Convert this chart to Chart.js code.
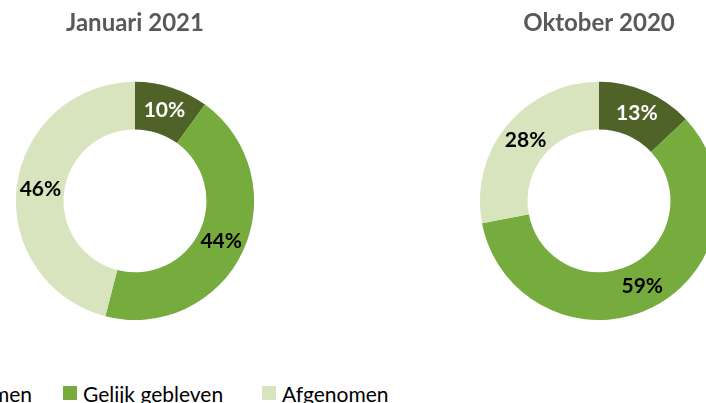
<!DOCTYPE html>
<html>
<head>
<meta charset="utf-8">
<script src="https://cdn.jsdelivr.net/npm/chart.js@4"></script>
<style>
  html, body { margin: 0; padding: 0; background: #fff; }
  body { width: 706px; height: 403px; position: relative; overflow: hidden; font-family: Lato, "Open Sans", sans-serif; }
  .box { position: absolute; top: 0; width: 300px; height: 320px; }
  .item { position: absolute; top: 380px; height: 26px; display: flex; align-items: center; font-size: 21px; color: #000; white-space: nowrap; }
  .item i { display: inline-block; width: 14px; height: 14px; margin-right: 6px; }
</style>
</head>
<body>
<div class="box" style="left:-15px"><canvas id="chartJan"></canvas></div>
<div class="box" style="left:449px"><canvas id="chartOkt"></canvas></div>
<div id="legend"></div>

<script>
// data
const categories = ['Toegenomen', 'Gelijk gebleven', 'Afgenomen'];
const januari2021 = [10, 44, 46];
const oktober2020 = [13, 59, 28];
const colors = ['#4F6228', '#76AB3E', '#D8E4BE'];
const labelColors = ['#FFFFFF', '#000000', '#000000'];

// draws percentage labels in the middle of each ring segment
const segmentLabels = {
    id: 'segmentLabels',
    afterDatasetsDraw(chart) {
        const ctx = chart.ctx;
        const meta = chart.getDatasetMeta(0);
        const values = chart.data.datasets[0].data;
        ctx.save();
        ctx.font = 'bold 21px Lato, sans-serif';
        ctx.textAlign = 'center';
        ctx.textBaseline = 'middle';
        meta.data.forEach((arc, i) => {
            const pos = arc.tooltipPosition();
            ctx.fillStyle = labelColors[i];
            ctx.fillText(values[i] + '%', pos.x, pos.y);
        });
        ctx.restore();
    }
};

function makeDonut(id, title, values) {
    const ctx = document.getElementById(id).getContext('2d');
    return new Chart(ctx, {
        type: 'doughnut',
        data: {
            labels: categories,
            datasets: [{
                data: values,
                backgroundColor: colors,
                borderWidth: 0
            }]
        },
        options: {
            responsive: true,
            maintainAspectRatio: false,
            animation: false,
            cutout: '60%',
            layout: { padding: 0 },
            plugins: {
                legend: { display: false },
                tooltip: { enabled: false },
                title: {
                    display: true,
                    text: title,
                    color: '#595959',
                    font: { family: 'Lato', size: 24, weight: 'bold', lineHeight: 1.2 },
                    padding: { top: 9, bottom: 44 }
                }
            }
        },
        plugins: [segmentLabels]
    });
}

makeDonut('chartJan', 'Januari 2021', januari2021);
makeDonut('chartOkt', 'Oktober 2020', oktober2020);

// legend, Toegenomen is anchored on its right edge (it runs off the left side)
const legend = document.getElementById('legend');
const legendPlace = [{ right: 674 }, { left: 63 }, { left: 262 }];
categories.forEach((name, i) => {
    const item = document.createElement('span');
    item.className = 'item';
    if (legendPlace[i].left !== undefined) item.style.left = legendPlace[i].left + 'px';
    else item.style.right = legendPlace[i].right + 'px';
    const sw = document.createElement('i');
    sw.style.background = colors[i];
    item.appendChild(sw);
    item.appendChild(document.createTextNode(name));
    legend.appendChild(item);
});
</script>
</body>
</html>
